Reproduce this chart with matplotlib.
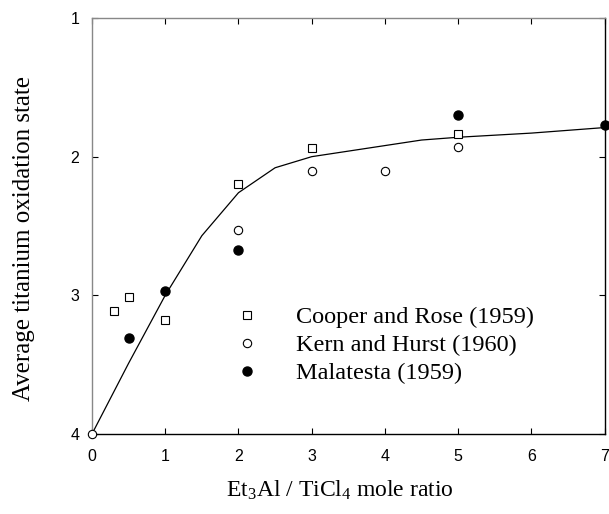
import matplotlib.pyplot as plt
from matplotlib.lines import Line2D

# curve
curve_x = [0, 0.5, 1, 1.5, 2, 2.5, 3, 3.5, 4, 4.5, 5, 6, 7]
curve_y = [4.0, 3.49, 3.0, 2.57, 2.26, 2.08, 2.0, 1.96, 1.92, 1.88, 1.86, 1.83, 1.79]

# Cooper and Rose (1959)
cooper_x = [0.3, 0.5, 1, 2, 3, 5]
cooper_y = [3.11, 3.01, 3.18, 2.20, 1.935, 1.84]
# Kern and Hurst (1960)
kern_x = [0, 2, 3, 4, 5]
kern_y = [4.0, 2.53, 2.10, 2.10, 1.93]
# Malatesta (1959)
mal_x = [0.5, 1, 2, 5, 7]
mal_y = [3.31, 2.97, 2.67, 1.70, 1.77]

labels = ["Cooper and Rose (1959)", "Kern and Hurst (1960)", "Malatesta (1959)"]

plt.rcParams['mathtext.fontset'] = 'custom'
plt.rcParams['mathtext.rm'] = 'Liberation Serif'
plt.rcParams['mathtext.it'] = 'Liberation Serif'

fig = plt.figure(figsize=(6.09, 5.14), dpi=100)
ax = fig.add_axes([0.151, 0.1556, 0.842, 0.8094])

ax.plot(curve_x, curve_y, color="black", lw=0.9, zorder=2)
sq = dict(ls="none", marker="s", ms=5.2, mfc="white", mec="black", mew=0.8)
oc = dict(ls="none", marker="o", ms=6, mfc="white", mec="black", mew=0.8)
fc = dict(ls="none", marker="o", ms=6.5, mfc="black", mec="black")
ax.plot(cooper_x, cooper_y, clip_on=False, zorder=3, **sq)
ax.plot(kern_x, kern_y, clip_on=False, zorder=3, **oc)
ax.plot(mal_x, mal_y, clip_on=False, zorder=3, **fc)

ax.set_xlim(0, 7)
ax.set_ylim(4, 1)
ax.set_xticks(range(0, 8))
ax.set_yticks([1, 2, 3, 4])
ax.tick_params(direction="in", length=4, width=0.8, top=True, right=True, labelsize=11.5)
ax.tick_params(axis="x", pad=11)
ax.tick_params(axis="y", pad=9)
for lab in ax.get_xticklabels() + ax.get_yticklabels():
    lab.set_fontfamily("Liberation Sans")

ax.spines["top"].set_color("#888888")
ax.spines["left"].set_color("#888888")
for s in ax.spines.values():
    s.set_linewidth(1)

ax.set_xlabel("Et$_3$Al / TiCl$_4$ mole ratio", family="Liberation Serif", fontsize=17)
ax.xaxis.set_label_coords(0.483, -0.108)
ax.set_ylabel("Average titanium oxidation state", family="Liberation Serif", fontsize=18)
ax.yaxis.set_label_coords(-0.111, 0.471)

handles = [Line2D([], [], **sq), Line2D([], [], **oc), Line2D([], [], **fc)]
ax.legend(handles, labels, frameon=False, loc="center left", bbox_to_anchor=(0.279, 0.213),
          prop={"family": "Liberation Serif", "size": 17.5}, handlelength=1,
          handletextpad=1.5, labelspacing=0.25, borderaxespad=0, borderpad=0)

fig.savefig("out.png", dpi=100)
